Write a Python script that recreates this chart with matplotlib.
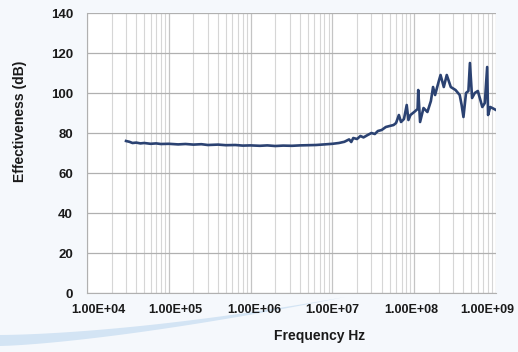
import numpy as np
import matplotlib.pyplot as plt
import matplotlib.transforms as mtransforms
from matplotlib.patches import Polygon
from matplotlib.ticker import FixedLocator, LogLocator, NullFormatter

# shielding effectiveness
freq_hz = [3.0e4, 3.3e4, 3.6e4, 4.0e4, 4.5e4, 5.0e4, 6.0e4, 7.0e4, 8.0e4,
           1.0e5, 1.3e5, 1.6e5, 2.0e5, 2.5e5, 3.0e5, 4.0e5, 5.0e5, 6.5e5, 8.0e5,
           1.0e6, 1.3e6, 1.6e6, 2.0e6, 2.5e6, 3.2e6, 4.0e6, 5.0e6, 6.3e6, 8.0e6,
           1.0e7, 1.2e7, 1.4e7, 1.6e7, 1.7e7, 1.8e7, 2.0e7, 2.2e7, 2.4e7, 2.7e7,
           3.0e7, 3.3e7, 3.6e7, 4.0e7, 4.5e7, 5.0e7, 5.6e7, 6.0e7, 6.5e7, 6.9e7,
           7.5e7, 8.1e7, 8.5e7, 9.0e7, 1.0e8, 1.1e8, 1.12e8, 1.18e8, 1.3e8,
           1.45e8, 1.6e8, 1.7e8, 1.8e8, 2.0e8, 2.1e8, 2.3e8, 2.5e8, 2.8e8,
           3.2e8, 3.6e8, 3.8e8, 4.0e8, 4.3e8, 4.6e8, 4.8e8, 5.1e8, 5.5e8,
           6.0e8, 6.8e8, 7.3e8, 7.8e8, 8.0e8, 8.5e8, 9.0e8, 1.0e9]
effect_db = [76.0, 75.6, 75.0, 75.2, 74.8, 75.0, 74.6, 74.8, 74.5,
             74.6, 74.3, 74.5, 74.2, 74.4, 74.0, 74.2, 73.9, 74.0, 73.7,
             73.8, 73.6, 73.8, 73.5, 73.7, 73.6, 73.8, 73.9, 74.0, 74.3,
             74.6, 75.0, 75.6, 76.8, 75.5, 77.5, 77.0, 78.5, 77.8, 79.0,
             80.0, 79.5, 81.0, 81.5, 83.0, 83.5, 84.0, 85.0, 89.0, 85.5,
             87.0, 94.0, 86.5, 89.0, 90.5, 92.0, 101.5, 85.5, 92.5,
             90.5, 96.0, 103.0, 99.0, 106.0, 109.0, 103.0, 109.0, 103.0,
             101.5, 99.0, 94.0, 88.0, 100.0, 101.0, 115.0, 97.5, 100.0,
             101.0, 93.0, 95.0, 113.0, 89.0, 93.0, 92.5, 91.5]

x_ticks = [1e4, 1e5, 1e6, 1e7, 1e8, 1e9]
x_labels = ['1.00E+04', '1.00E+05', '1.00E+06', '1.00E+07', '1.00E+08', '1.00E+09']
y_ticks = [0, 20, 40, 60, 80, 100, 120, 140]

plt.rcParams['font.family'] = ['Liberation Sans', 'DejaVu Sans']

fig = plt.figure(figsize=(5.18, 3.52), dpi=100)
fig.patch.set_facecolor('#f5f8fc')

# decorative swoosh at the bottom left
W, H = 518.0, 352.0
t = np.linspace(0, 1, 40)
top_x = 345 * t
top_y = 335 - 38 * t ** 1.6
bot_x = 345 * t[::-1]
bot_y = 346 - 49 * t[::-1] ** 1.4
pts = np.column_stack([np.r_[top_x, bot_x] / W, 1 - np.r_[top_y, bot_y] / H])
fig.add_artist(Polygon(pts, closed=True, transform=fig.transFigure,
                       facecolor='#d3e4f4', edgecolor='none', zorder=0))

ax = fig.add_axes([87 / W, 59 / H, 409 / W, 280 / H])
ax.set_facecolor('white')
ax.set_xscale('log')
ax.set_xlim(1e4, 1e9)
ax.set_ylim(0, 140)

ax.plot(freq_hz, effect_db, color='#2b4272', lw=1.9, zorder=3)

ax.xaxis.set_major_locator(FixedLocator(x_ticks))
ax.set_xticklabels(x_labels)
ax.xaxis.set_minor_locator(LogLocator(base=10, subs=np.arange(2, 10)))
ax.xaxis.set_minor_formatter(NullFormatter())
ax.set_yticks(y_ticks)

ax.grid(True, which='major', axis='y', color='#b0b0b0', lw=0.9)
ax.grid(True, which='major', axis='x', color='#c4c4c4', lw=0.9)
ax.grid(True, which='minor', axis='x', color='#d6d6d6', lw=0.8)

for side in ['top', 'right']:
    ax.spines[side].set_visible(False)
ax.spines['left'].set_color('#b0b0b0')
ax.spines['bottom'].set_color('#b0b0b0')

ax.tick_params(axis='both', which='both', length=0, colors='#1a1a1a')
ax.tick_params(axis='x', pad=8, labelsize=9)
ax.tick_params(axis='y', pad=10, labelsize=9.5)
for lab in ax.get_xticklabels() + ax.get_yticklabels():
    lab.set_fontweight('bold')

# x labels in the reference drift a little off their gridlines
shifts = [11, 7, 4, 0, -3, -9]
for lab, dx in zip(ax.get_xticklabels(), shifts):
    off = mtransforms.ScaledTranslation(dx / 100.0, 0, fig.dpi_scale_trans)
    lab.set_transform(lab.get_transform() + off)

fig.text(20 / W, 1 - 121 / H, 'Effectiveness (dB)', rotation=90, ha='center', va='center',
         fontsize=10, fontweight='bold', color='#1a1a1a')
fig.text(320 / W, 1 - 336 / H, 'Frequency Hz', ha='center', va='center',
         fontsize=10, fontweight='bold', color='#1a1a1a')

fig.savefig('out.png', dpi=100, facecolor=fig.get_facecolor())
